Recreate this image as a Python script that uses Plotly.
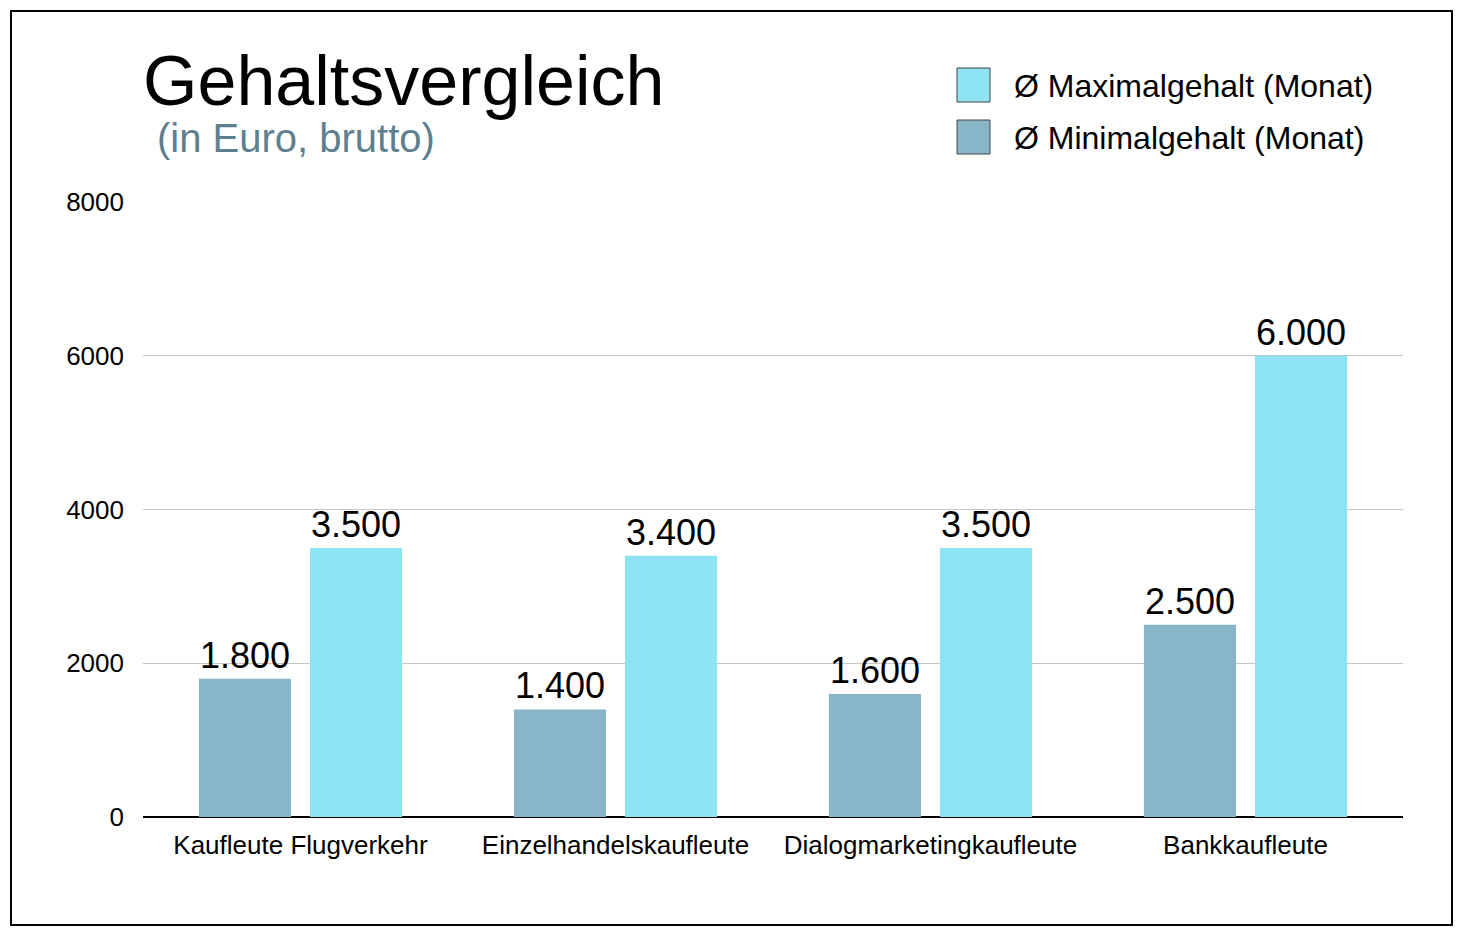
import plotly.graph_objects as go

categories = ["Kaufleute Flugverkehr", "Einzelhandelskaufleute", "Dialogmarketingkaufleute", "Bankkaufleute"]
min_salary = [1800, 1400, 1600, 2500]
max_salary = [3500, 3400, 3500, 6000]
min_name = "Ø Minimalgehalt (Monat)"
max_name = "Ø Maximalgehalt (Monat)"
title_text = "Gehaltsvergleich"
subtitle_text = "(in Euro, brutto)"

# page has an 8px body margin; compensate so that page coordinates match
OFF = 8
W, H = 1466 - 2 * OFF, 938 - 2 * OFF
L, R, T, B = 143 - OFF, 1403 - OFF, 202 - OFF, 817 - OFF
FONT = "Liberation Sans, Arial, Helvetica, sans-serif"
C_MIN = "#89B5C9"
C_MAX = "#8DE3F2"

def px(x):
    return (x - OFF - L) / (R - L)

def py(y):
    return (B - (y - OFF)) / (B - T)

fig = go.Figure()
fig.add_trace(go.Bar(x=categories, y=min_salary, name=min_name, marker=dict(color=C_MIN, line=dict(width=0)),
                     texttemplate="%{y:,.0f}", textposition="outside", cliponaxis=False,
                     textfont=dict(size=36, color="black", family=FONT)))
fig.add_trace(go.Bar(x=categories, y=max_salary, name=max_name, marker=dict(color=C_MAX, line=dict(width=0)),
                     texttemplate="%{y:,.0f}", textposition="outside", cliponaxis=False,
                     textfont=dict(size=36, color="black", family=FONT)))

shapes = [
    dict(type="rect", xref="paper", yref="paper", x0=px(11), x1=px(1452), y0=py(925), y1=py(11),
         line=dict(color="black", width=2), fillcolor="rgba(0,0,0,0)", layer="above"),
    dict(type="rect", xref="paper", yref="paper", x0=px(957), x1=px(990), y0=py(102), y1=py(68),
         line=dict(color="#444", width=1), fillcolor=C_MAX),
    dict(type="rect", xref="paper", yref="paper", x0=px(957), x1=px(990), y0=py(154), y1=py(120),
         line=dict(color="#444", width=1), fillcolor=C_MIN),
]

annotations = [
    dict(text=title_text, xref="paper", yref="paper", x=px(141), y=py(81), xanchor="left", yanchor="middle",
         showarrow=False, font=dict(size=70, color="black", family=FONT)),
    dict(text=subtitle_text, xref="paper", yref="paper", x=px(155), y=py(138), xanchor="left", yanchor="middle",
         showarrow=False, font=dict(size=40, color="#5E7F8E", family=FONT)),
    dict(text=max_name, xref="paper", yref="paper", x=px(1012), y=py(86), xanchor="left", yanchor="middle",
         showarrow=False, font=dict(size=32, color="black", family=FONT)),
    dict(text=min_name, xref="paper", yref="paper", x=px(1012), y=py(138), xanchor="left", yanchor="middle",
         showarrow=False, font=dict(size=32, color="black", family=FONT)),
]

fig.update_layout(
    width=W, height=H,
    margin=dict(l=L, r=W - R, t=T, b=H - B, pad=0),
    paper_bgcolor="white", plot_bgcolor="white",
    barmode="group", bargap=0.295, bargroupgap=0.17,
    separators=",.",
    showlegend=False,
    font=dict(family=FONT, color="black"),
    shapes=shapes, annotations=annotations,
)
fig.update_xaxes(showgrid=False, showline=False, ticks="", tickfont=dict(size=26, color="black"),
                 ticklabelstandoff=10)
fig.update_yaxes(range=[0, 8000], dtick=2000, tick0=0, showgrid=True, gridcolor="#C6C6C6", gridwidth=1,
                 zeroline=True, zerolinecolor="black", zerolinewidth=1.5, showline=False, ticks="",
                 tickfont=dict(size=26, color="black"), ticklabelstandoff=18, tickformat="d")

fig.write_html("out.html")
